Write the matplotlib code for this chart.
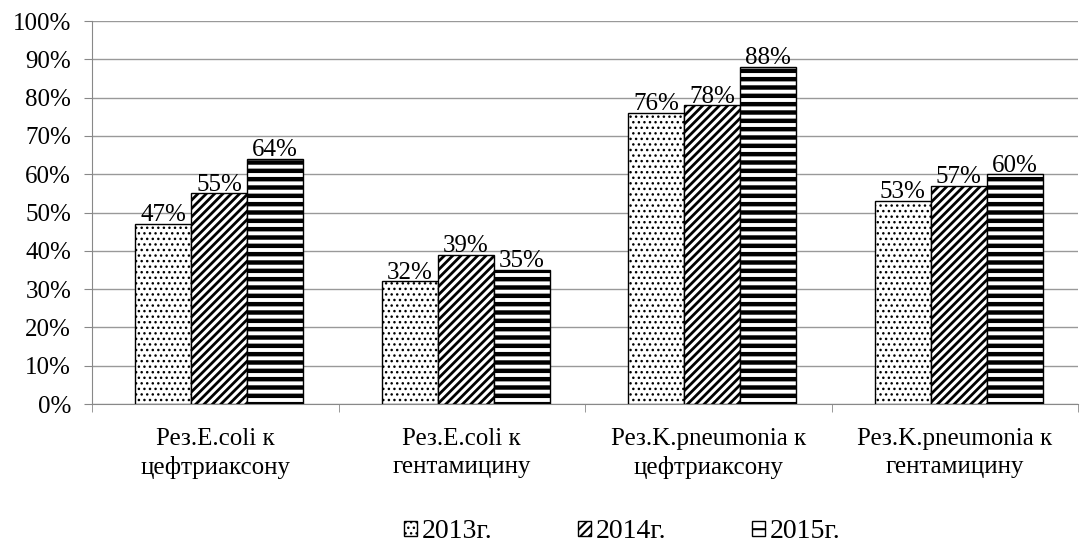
import numpy as np
import matplotlib
matplotlib.use("Agg")
import matplotlib.pyplot as plt

categories = ["Рез.E.coli к\nцефтриаксону", "Рез.E.coli к\nгентамицину",
              "Рез.K.pneumonia к\nцефтриаксону", "Рез.K.pneumonia к\nгентамицину"]
years = ["2013г.", "2014г.", "2015г."]
v2013 = [47, 32, 76, 53]
v2014 = [55, 39, 78, 57]
v2015 = [64, 35, 88, 60]

plt.rcParams['font.family'] = ['Liberation Serif', 'DejaVu Serif']
plt.rcParams['hatch.color'] = 'black'

fig = plt.figure(figsize=(10.86, 5.49), dpi=100)
ax = fig.add_axes([0.0847, 0.2641, 0.908, 0.6976])

x = np.arange(len(categories))
w = 0.227
hatches = ['...', '////', '--']
hatch_lw = [1.0, 2.0, 3.2]
series = [v2013, v2014, v2015]
for i, (vals, h, hl, lab) in enumerate(zip(series, hatches, hatch_lw, years)):
    with plt.rc_context({'hatch.linewidth': hl}):
        bars = ax.bar(x + 0.016 + (i - 1) * w, vals, w, facecolor='white', edgecolor='black',
                      hatch=h, linewidth=1.0, label=lab, zorder=3)
    for b in bars:
        if hasattr(b, 'set_hatch_linewidth'):
            b.set_hatch_linewidth(hl)
    for b, v in zip(bars, vals):
        ax.text(b.get_x() + b.get_width() / 2, v - 0.6, f"{v}%", ha='center',
                va='bottom', fontsize=18, zorder=4)

ax.set_ylim(0, 100)
ax.set_xlim(-0.5, 3.5)
ax.set_yticks(range(0, 101, 10))
ax.set_yticklabels([f"{t}%" for t in range(0, 101, 10)], fontsize=18)
ax.set_xticks(x)
ax.set_xticklabels(categories, fontsize=18, linespacing=1.35)
ax.tick_params(axis='x', length=0, pad=17)
ax.tick_params(axis='y', length=6, color='#888888', pad=9)
ax.set_xticks(np.arange(-0.5, 4, 1), minor=True)
ax.tick_params(axis='x', which='minor', length=6, color='#888888')
ax.yaxis.grid(True, color='#999999', linewidth=1.0, zorder=0)
ax.set_axisbelow(True)
for s in ['top', 'right']:
    ax.spines[s].set_visible(False)
for s in ['left', 'bottom']:
    ax.spines[s].set_color('#888888')

leg = fig.legend(loc='lower center', bbox_to_anchor=(0.573, -0.037), ncol=3, frameon=False,
                 fontsize=20, handlelength=0.47, handleheight=0.47, handletextpad=0.15,
                 columnspacing=3.1)
for hnd, hl in zip(leg.legend_handles, hatch_lw):
    if hasattr(hnd, 'set_hatch_linewidth'):
        hnd.set_hatch_linewidth(min(hl, 1.5))

fig.savefig("out.png", dpi=100)
